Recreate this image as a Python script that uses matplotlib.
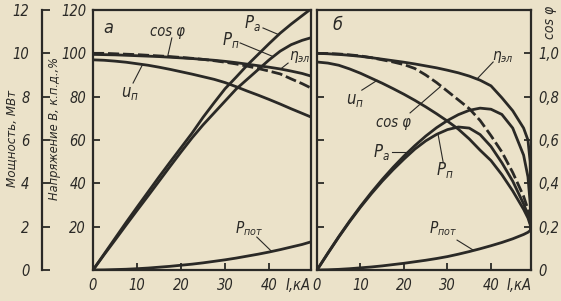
import matplotlib
matplotlib.use("Agg")
import matplotlib.pyplot as plt
from matplotlib import font_manager

fonts = font_manager.fontManager.ttflist
names = {f.name for f in fonts}
if 'Liberation Sans Narrow' in names:
    face, stretch = 'Liberation Sans Narrow', 'normal'
else:
    face = 'DejaVu Sans'
    cond = any(f.name == 'DejaVu Sans' and f.stretch == 'condensed' for f in fonts)
    stretch = 'condensed' if cond else 'normal'
plt.rcParams['font.family'] = [face, 'DejaVu Sans']
plt.rcParams['font.style'] = 'italic'
plt.rcParams['font.stretch'] = stretch
plt.rcParams['mathtext.fontset'] = 'custom'
plt.rcParams['mathtext.it'] = face + ':italic:stretch=' + stretch
plt.rcParams['mathtext.rm'] = face + ':italic:stretch=' + stretch

paper = '#ebe2c9'
ink = '#2a2926'

# ---- панель а ----
I_a = [0, 2.5, 5, 7.5, 10, 12.5, 15, 17.5, 20, 22.5, 25, 27.5, 30, 32.5, 35,
       37.5, 40, 42.5, 45, 47.5, 49.5]
Pa_a = [0, 0.73, 1.46, 2.19, 2.9, 3.6, 4.3, 4.98, 5.65, 6.32, 7.05, 7.72, 8.37,
        8.9, 9.45, 9.95, 10.45, 10.93, 11.35, 11.74, 12.05]          # МВт
Pn_a = [0, 0.7, 1.38, 2.07, 2.75, 3.42, 4.1, 4.78, 5.45, 6.1, 6.7, 7.25, 7.8,
        8.35, 8.8, 9.25, 9.7, 10.1, 10.4, 10.6, 10.72]               # МВт
Ppot_a = [0, 0.005, 0.02, 0.035, 0.06, 0.09, 0.13, 0.17, 0.22, 0.27, 0.33,
          0.4, 0.47, 0.55, 0.64, 0.73, 0.83, 0.94, 1.06, 1.18, 1.3]   # МВт
cos_a = [1.0, 1.0, 0.998, 0.996, 0.994, 0.991, 0.988, 0.985, 0.981, 0.977,
         0.972, 0.966, 0.959, 0.951, 0.941, 0.93, 0.918, 0.905, 0.882, 0.86, 0.84]
eta_a = [99.5, 99.4, 99.3, 99.1, 98.9, 98.7, 98.5, 98.2, 97.9, 97.6, 97.2,
         96.8, 96.3, 95.7, 95.0, 94.3, 93.6, 92.8, 91.8, 90.7, 89.5]  # %
un_a = [97, 96.8, 96.4, 95.9, 95.2, 94.5, 93.6, 92.6, 91.5, 90.4, 89.2, 88.0,
        86.5, 84.6, 82.6, 80.7, 78.7, 76.6, 74.4, 72.3, 70.6]         # В

# ---- панель б ----
I_b = [0, 2.5, 5, 7.5, 10, 12.5, 15, 17.5, 20, 22.5, 25, 27.5, 30, 32.5, 35,
       37.5, 40, 42.5, 45, 47.5, 48.5, 49.0, 49.2]
Pa_b = [0, 0.78, 1.54, 2.26, 2.94, 3.58, 4.18, 4.74, 5.26, 5.74, 6.18, 6.57,
        6.9, 7.17, 7.37, 7.47, 7.42, 7.18, 6.55, 5.3, 4.3, 3.1, 1.9]
Pn_b = [0, 0.77, 1.52, 2.23, 2.9, 3.52, 4.1, 4.63, 5.12, 5.58, 5.96, 6.26,
        6.48, 6.6, 6.55, 6.25, 5.7, 4.95, 4.1, 3.05, 2.55, 2.2, 1.9]
Ppot_b = [0, 0.01, 0.03, 0.06, 0.1, 0.14, 0.19, 0.25, 0.31, 0.38, 0.45, 0.53,
          0.62, 0.73, 0.85, 0.98, 1.12, 1.27, 1.44, 1.64, 1.74, 1.82, 1.88]
cos_b = [1.0, 0.999, 0.997, 0.993, 0.988, 0.98, 0.97, 0.96, 0.948, 0.93, 0.9,
         0.865, 0.825, 0.785, 0.745, 0.69, 0.62, 0.545, 0.45, 0.34, 0.28, 0.23, 0.19]
eta_b = [100, 99.8, 99.5, 99.1, 98.6, 98.0, 97.3, 96.6, 95.9, 95.1, 94.2, 93.3,
         92.2, 91.0, 89.5, 87.6, 85.0, 79.5, 73.5, 65.5, 60, 50, 19]
un_b = [96, 95.5, 94.5, 92.8, 90.8, 88.5, 86.2, 83.7, 81.1, 78.3, 75.3, 72.1,
        68.7, 65.0, 60.5, 55.3, 50.5, 44, 36.5, 28, 24, 21, 19]

xticks = [0, 10, 20, 30, 40]
main_ticks = [0, 20, 40, 60, 80, 100, 120]
power_ticks = [0, 2, 4, 6, 8, 10, 12]
cos_ticks = [0, 0.2, 0.4, 0.6, 0.8, 1.0]
cos_labels = ['0', '0,2', '0,4', '0,6', '0,8', '1,0']

fig = plt.figure(figsize=(5.61, 3.01), dpi=100, facecolor=paper)
W, H = 561.0, 301.0
bot = 1 - 270 / H
hgt = 260 / H


def style(ax):
    ax.set_facecolor(paper)
    for s in ax.spines.values():
        s.set_linewidth(1.6)
        s.set_color(ink)
    ax.tick_params(direction='in', length=5, width=1.3, colors=ink,
                   labelsize=10.5, pad=6)


def leader(ax, x0, y0, x1, y1):
    ax.plot([x0, x1], [y0, y1], color=ink, lw=0.8)


panels = []
for left, width, xmax, data in [
        (93, 218, 49.5, (I_a, Pa_a, Pn_a, Ppot_a, cos_a, eta_a, un_a)),
        (317, 214, 49.2, (I_b, Pa_b, Pn_b, Ppot_b, cos_b, eta_b, un_b))]:
    ax = fig.add_axes([left / W, bot, width / W, hgt])
    style(ax)
    ax.set_xlim(0, xmax)
    ax.set_ylim(0, 120)
    ax.set_xticks(xticks)
    ax.set_yticks(main_ticks)
    ax.tick_params(axis='y', left=True, right=True)
    axp = ax.twinx()
    axp.set_ylim(0, 12)
    axp.axis('off')
    axc = ax.twinx()
    axc.set_ylim(0, 1.2)
    I, Pa, Pn, Ppot, cs, eta, un = data
    ax.plot(I, eta, color=ink, lw=2.0)
    ax.plot(I, un, color=ink, lw=2.0)
    axp.plot(I, Pa, color=ink, lw=2.0)
    axp.plot(I, Pn, color=ink, lw=2.0)
    axp.plot(I, Ppot, color=ink, lw=2.0)
    axc.plot(I, cs, color=ink, lw=2.0, ls=(0, (4, 1.4)))
    ax.text(46.5, -0.058, 'I,кА', transform=ax.get_xaxis_transform(),
            ha='center', va='center', fontsize=10.5, color=ink)
    panels.append((ax, axc))

# панель а
ax, axc = panels[0]
ax.set_yticklabels([''] + [str(t) for t in main_ticks[1:]])
ax.tick_params(axis='y', labelleft=True, labelright=False, pad=5)
axc.axis('off')
lab = dict(color=ink, ha='center', va='center')
ax.text(3.4, 111.7, 'а', fontsize=13, **lab)
ax.text(16.8, 110.3, 'cos φ', fontsize=10.5, **lab)
leader(ax, 17.9, 107.1, 17.0, 99.0)
ax.text(36.1, 114, r'$P_{а}$', fontsize=12, **lab)
leader(ax, 38.6, 111.7, 42.2, 108.6)
ax.text(31.3, 106.1, r'$P_{п}$', fontsize=12, **lab)
leader(ax, 33.4, 104.8, 40.9, 98.5)
ax.text(47.0, 98.3, r'$\eta_{эл}$', fontsize=11, **lab)
leader(ax, 44.3, 95.5, 42.5, 92.6)
ax.text(8.4, 81.7, r'$u_{п}$', fontsize=12, **lab)
leader(ax, 9.1, 86.3, 11.2, 94.6)
ax.text(35.4, 18.9, r'$P_{пот}$', fontsize=11, **lab)
leader(ax, 37.2, 15.2, 40.6, 8.5)

# панель б
ax, axc = panels[1]
ax.tick_params(axis='y', labelleft=False, right=False)
for s in axc.spines.values():
    s.set_visible(False)
axc.set_yticks(cos_ticks)
axc.set_yticklabels(cos_labels)
axc.tick_params(direction='in', length=5, width=1.3, colors=ink,
                labelsize=10.5, pad=5)
ax.text(4.6, 113, 'б', fontsize=13, **lab)
ax.text(42.8, 98.3, r'$\eta_{эл}$', fontsize=11, **lab)
leader(ax, 40.5, 96.0, 36.8, 88.2)
ax.text(8.7, 78.5, r'$u_{п}$', fontsize=12, **lab)
leader(ax, 10.3, 83.0, 13.8, 87.5)
ax.text(17.5, 68.3, 'cos φ', fontsize=10.5, **lab)
leader(ax, 21.4, 72.5, 28.3, 84.5)
ax.text(14.9, 54.5, r'$P_{а}$', fontsize=12, **lab)
leader(ax, 17.3, 54.5, 20.9, 54.5)
ax.text(29.4, 46.1, r'$P_{п}$', fontsize=12, **lab)
leader(ax, 29.0, 49.8, 27.8, 63.0)
ax.text(29.0, 18.9, r'$P_{пот}$', fontsize=11, **lab)
leader(ax, 32.2, 13.8, 35.9, 9.2)

# ось мощности
axw = fig.add_axes([42 / W, bot, 0.01, hgt])
axw.set_facecolor('none')
for k in ['right', 'top', 'bottom']:
    axw.spines[k].set_visible(False)
axw.spines['left'].set_linewidth(1.6)
axw.spines['left'].set_color(ink)
axw.set_ylim(0, 12)
axw.set_yticks(power_ticks)
axw.set_xticks([])
axw.tick_params(axis='y', direction='in', length=6, width=1.3, colors=ink,
                labelsize=10.5, pad=9)

fig.text(12 / W, 1 - 138 / H, 'Мощность, МВт', rotation=90, ha='center',
         va='center', fontsize=9.5, color=ink)
fig.text(55 / W, 1 - 128 / H, 'Напряжение В, к.п.д.,%', rotation=90,
         ha='center', va='center', fontsize=9.2, color=ink)
fig.text(550 / W, 1 - 22 / H, 'cos φ', rotation=90, ha='center', va='center',
         fontsize=10, color=ink)

fig.savefig('out.png', dpi=100, facecolor=paper)
